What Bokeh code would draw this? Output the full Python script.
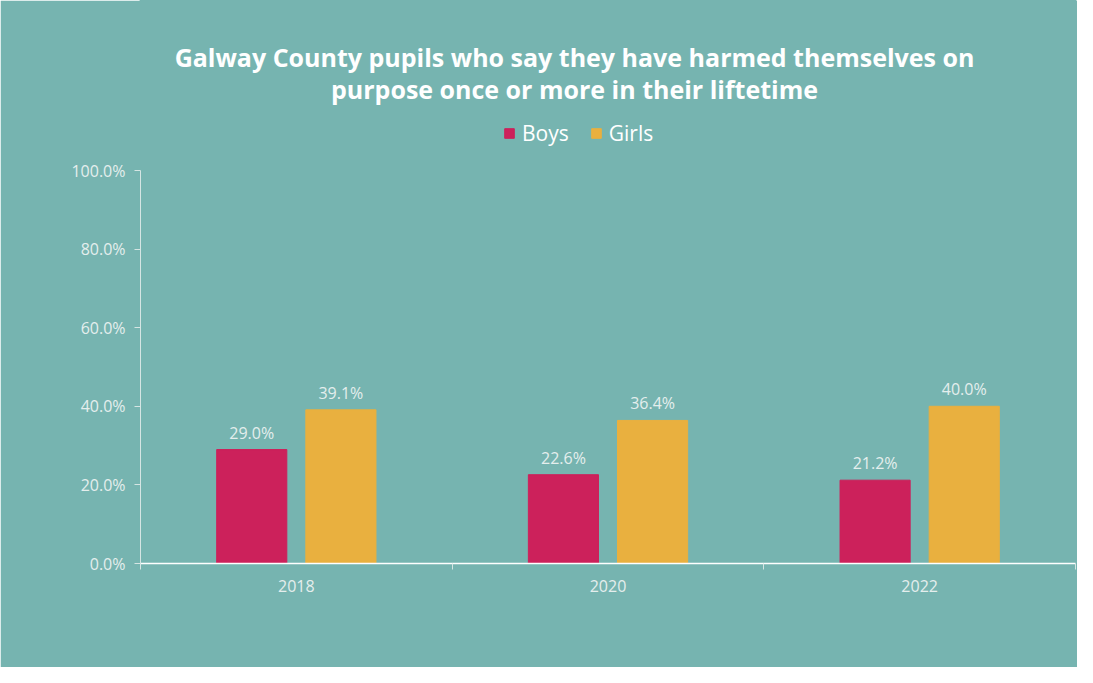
from bokeh.plotting import figure
from bokeh.models import (ColumnDataSource, LabelSet, Label, Legend, LegendItem,
                          FixedTicker, PrintfTickFormatter, Range1d)
from bokeh.core.properties import value
from bokeh.embed import file_html
from bokeh.resources import INLINE

years = ["2018", "2020", "2022"]
boys = [29.0, 22.6, 21.2]
girls = [39.1, 36.4, 40.0]
y_ticks = [0, 20, 40, 60, 80, 100]
title_lines = ["Galway County pupils who say they have harmed themselves on",
               "purpose once or more in their liftetime"]

BG = "#76B4B0"
BOYS_C = "#CC215B"
GIRLS_C = "#E9B03F"
TXT = "#E4EEED"
FONT = "Open Sans"

W, H = 1077, 667
LEFT, RIGHT, BOTTOM = 140, 2, 104
AXIS_TOP_PX = 170          # pixel row (from top) where the 100% tick sits
frame_h = H - BOTTOM
y_top = max(y_ticks) * frame_h / (frame_h - AXIS_TOP_PX)

idx = list(range(len(years)))
src_b = ColumnDataSource(dict(x=[i + 0.5 - 0.143 for i in idx], y=boys,
                              lab=[f"{v:.1f}%" for v in boys]))
src_g = ColumnDataSource(dict(x=[i + 0.5 + 0.143 for i in idx], y=girls,
                              lab=[f"{v:.1f}%" for v in girls]))

p = figure(width=W, height=H, output_backend="svg", toolbar_location=None,
           x_range=Range1d(0, len(years)), y_range=Range1d(0, y_top),
           min_border_left=LEFT, min_border_right=RIGHT, min_border_top=0,
           min_border_bottom=BOTTOM)
p.background_fill_color = BG
p.border_fill_color = BG
p.outline_line_color = BG
p.outline_line_width = 2
p.grid.visible = False

rb = p.vbar(x="x", top="y", width=0.225, source=src_b, color=BOYS_C)
rg = p.vbar(x="x", top="y", width=0.225, source=src_g, color=GIRLS_C)

for s in (src_b, src_g):
    p.add_layout(LabelSet(x="x", y="y", text="lab", source=s, y_offset=6,
                          text_align="center", text_baseline="bottom",
                          text_color=TXT, text_font=value(FONT), text_font_size="16px"))

# axes
ya = p.yaxis[0]
ya.bounds = (min(y_ticks), max(y_ticks))
ya.ticker = FixedTicker(ticks=y_ticks)
ya.formatter = PrintfTickFormatter(format="%.1f%%")
ya.axis_line_color = "#D5E5E3"
ya.major_tick_line_color = "#D5E5E3"
ya.major_tick_out = 6
ya.major_tick_in = 0
ya.minor_tick_line_color = None
ya.major_label_text_color = TXT
ya.major_label_text_font = FONT
ya.major_label_text_font_size = "16px"
ya.major_label_standoff = 9

xa = p.xaxis[0]
xa.ticker = FixedTicker(ticks=[i + 0.5 for i in idx], minor_ticks=list(range(len(years) + 1)))
xa.major_label_overrides = {i + 0.5: y for i, y in zip(idx, years)}
xa.axis_line_color = "white"
xa.axis_line_width = 1.5
xa.major_tick_line_color = None
xa.major_tick_out = 0
xa.major_tick_in = 0
xa.minor_tick_line_color = "#D5E5E3"
xa.minor_tick_out = 6
xa.minor_tick_in = 0
xa.major_label_text_color = TXT
xa.major_label_text_font = FONT
xa.major_label_text_font_size = "16px"
xa.major_label_standoff = 10

legend = Legend(items=[LegendItem(label="Boys", renderers=[rb]),
                       LegendItem(label="Girls", renderers=[rg])],
                orientation="horizontal", location=(363, 416),
                background_fill_alpha=0, border_line_color=None,
                padding=0, margin=0, spacing=21, glyph_width=12, glyph_height=12,
                label_standoff=7, label_text_color="white", label_text_font=FONT,
                label_text_font_size="21px", label_height=20)
p.add_layout(legend, "center")

for txt, yy in zip(title_lines, (507, 475)):
    p.add_layout(Label(x=434, y=yy, x_units="screen", y_units="screen", text=txt,
                       text_align="center", text_baseline="middle",
                       text_color="white", text_font=FONT, text_font_style="bold",
                       text_font_size="25px"))

open("out.html", "w").write(file_html(p, INLINE))
